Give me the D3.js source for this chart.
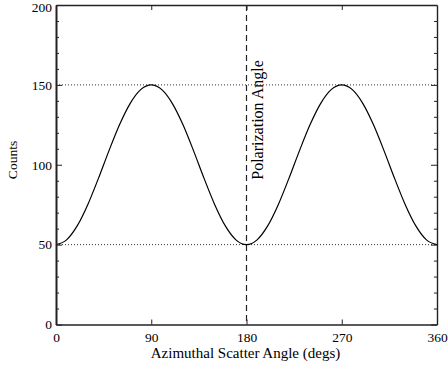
<!DOCTYPE html>
<html>
<head>
<style>
body { margin: 0; background: #fff; }
.axis path, .axis line { stroke: #222; }
</style>
<script src="https://cdn.jsdelivr.net/npm/d3@7"></script>
</head>
<body>
<svg width="448" height="369"></svg>
<script>
// values, 10 degree steps
var angles = [0,10,20,30,40,50,60,70,80,90,100,110,120,130,140,150,160,170,180,
  190,200,210,220,230,240,250,260,270,280,290,300,310,320,330,340,350,360];
var counts = [50,53,61.7,75,91.3,108.7,125,138.3,147,150,147,138.3,125,108.7,91.3,75,61.7,53,50,
  53,61.7,75,91.3,108.7,125,138.3,147,150,147,138.3,125,108.7,91.3,75,61.7,53,50];
var xTicks = [0, 90, 180, 270, 360];
var yTicks = [0, 50, 100, 150, 200];
var refLines = [50, 150];
var polAngle = 180;

var serif = "'Liberation Serif', 'Times New Roman', Times, serif";

var svg = d3.select("svg"),
  margin = {top: 5, right: 11, bottom: 44.5, left: 56},
  width = 448 - margin.left - margin.right,
  height = 369 - margin.top - margin.bottom;

var g = svg.append("g")
  .attr("transform", "translate(" + margin.left + "," + margin.top + ")");

var x = d3.scaleLinear().domain([0, 360]).range([0, width]);
var y = d3.scaleLinear().domain([0, 200]).range([height, 0]);

// dotted reference lines
g.selectAll(".ref").data(refLines).enter().append("line")
  .attr("x1", 0).attr("x2", width)
  .attr("y1", function(d) { return y(d); }).attr("y2", function(d) { return y(d); })
  .attr("stroke", "#333").attr("stroke-width", 1)
  .attr("stroke-dasharray", "1,2");

// dashed polarization angle line
g.append("line")
  .attr("x1", x(polAngle)).attr("x2", x(polAngle))
  .attr("y1", 0).attr("y2", height)
  .attr("stroke", "#222").attr("stroke-width", 1.2)
  .attr("stroke-dasharray", "6,4");

g.append("text")
  .attr("transform", "translate(" + (x(polAngle) + 16) + "," + (y(90) - 1) + ") rotate(-90)")
  .style("font-size", "16px")
  .text("Polarization Angle");

// curve
var line = d3.line()
  .x(function(d, i) { return x(angles[i]); })
  .y(function(d) { return y(d); })
  .curve(d3.curveMonotoneX);

g.append("path")
  .datum(counts)
  .attr("fill", "none")
  .attr("stroke", "#000")
  .attr("stroke-width", 1.2)
  .attr("d", line);

// axes
var yMinor = d3.range(0, 201, 10).filter(function(v) { return v % 50 != 0; });

g.append("g").attr("class", "axis")
  .call(d3.axisBottom(x).tickValues(xTicks).tickSize(-5).tickPadding(8).tickSizeOuter(0))
  .attr("transform", "translate(0," + height + ")")
  .call(function(a) { a.select(".domain").attr("stroke-width", 1.6); });

g.append("g").attr("class", "axis")
  .call(d3.axisTop(x).tickValues([90, 180, 270]).tickSize(-5).tickFormat("").tickSizeOuter(0))
  .call(function(a) { a.select(".domain").attr("stroke", "#555").attr("stroke-width", 1.6); });

g.append("g").attr("class", "axis")
  .call(d3.axisLeft(y).tickValues(yTicks).tickSize(-6).tickPadding(4).tickSizeOuter(0))
  .call(function(a) {
    a.select(".domain").attr("stroke", "#555").attr("stroke-width", 2);
    a.selectAll("text").filter(function(d) { return d == 200; }).attr("dy", "0.45em");
  });

g.append("g").attr("class", "axis")
  .call(d3.axisLeft(y).tickValues(yMinor).tickSize(-3).tickFormat("").tickSizeOuter(0))
  .call(function(a) { a.select(".domain").remove(); });

g.append("g").attr("class", "axis")
  .attr("transform", "translate(" + width + ",0)")
  .call(d3.axisRight(y).tickValues(yTicks).tickSize(-6).tickFormat("").tickSizeOuter(0))
  .call(function(a) { a.select(".domain").attr("stroke-width", 1.4); });

g.append("g").attr("class", "axis")
  .attr("transform", "translate(" + width + ",0)")
  .call(d3.axisRight(y).tickValues(yMinor).tickSize(-3).tickFormat("").tickSizeOuter(0))
  .call(function(a) { a.select(".domain").remove(); });

// axis titles
svg.append("text")
  .attr("x", margin.left + width / 2 - 1).attr("y", 358)
  .attr("text-anchor", "middle")
  .style("font-size", "15px")
  .text("Azimuthal Scatter Angle (degs)");

svg.append("text")
  .attr("transform", "translate(17,160) rotate(-90)")
  .attr("text-anchor", "middle")
  .style("font-size", "13.5px")
  .text("Counts");

svg.selectAll(".axis").attr("font-family", null).attr("font-size", null);
svg.selectAll("text").style("font-family", serif).attr("fill", "#000");
svg.selectAll(".axis text").style("font-size", "13.5px");
</script>
</body>
</html>
